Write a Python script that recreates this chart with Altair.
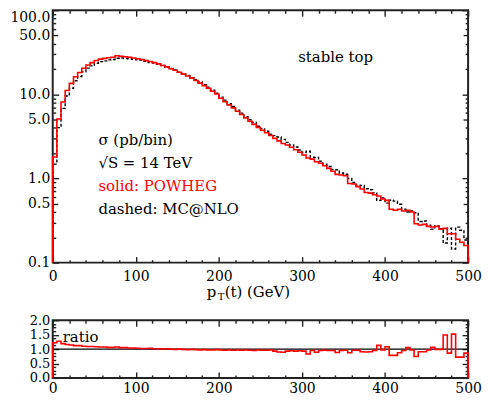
import altair as alt
import pandas as pd

# ---------------- data ----------------
x_domain = [0, 500]
y_domain_top = [0.1, 100]
y_domain_ratio = [0.0, 2.0]
bin_lo = list(range(0, 500, 5))  # 5 GeV bins

powheg = [
    1.8, 5.1, 8.1, 11.1, 13.5, 16.2, 18.2, 20.4, 22.3, 23.8,
    25.3, 26.2, 26.8, 27.2, 27.6, 28.8, 28.3, 28.0, 27.6, 27.1,
    26.5, 26.0, 25.2, 24.6, 23.8, 23.0, 22.0, 21.2, 20.2, 19.3,
    18.3, 17.4, 16.5, 15.6, 14.6, 13.6, 12.7, 11.8, 10.9, 10.1,
    9.0, 8.2, 7.5, 6.9, 6.3, 5.75, 5.25, 4.8, 4.4, 4.05,
    3.75, 3.5, 3.25, 3.0, 2.8, 2.6, 2.5, 2.35, 2.2, 2.05,
    1.9, 1.75, 1.7, 1.58, 1.52, 1.42, 1.32, 1.22, 1.12, 1.10,
    1.08, 0.87, 0.86, 0.80, 0.75, 0.68, 0.67, 0.64, 0.62, 0.57,
    0.55, 0.43, 0.42, 0.43, 0.41, 0.42, 0.40, 0.29, 0.28, 0.285,
    0.27, 0.265, 0.27, 0.25, 0.255, 0.22, 0.22, 0.19, 0.175, 0.16,
]

mcatnlo = [
    1.48, 4.02, 6.81, 9.57, 11.8, 14.5, 16.3, 18.5, 20.5, 21.8,
    23.4, 24.5, 25.0, 25.7, 26.0, 26.9, 27.0, 26.7, 26.5, 26.1,
    25.7, 25.5, 24.7, 23.9, 23.6, 22.8, 22.0, 21.0, 20.2, 19.5,
    18.3, 17.6, 16.8, 15.8, 14.9, 14.0, 13.0, 12.2, 11.2, 10.3,
    9.28, 8.54, 7.73, 7.19, 6.49, 5.99, 5.41, 5.0, 4.63, 4.18,
    3.91, 3.65, 3.35, 3.23, 3.11, 2.92, 2.69, 2.5, 2.37, 2.18,
    2.04, 2.11, 1.79, 1.78, 1.6, 1.48, 1.39, 1.28, 1.27, 1.16,
    1.125, 1.0, 0.896, 0.833, 0.824, 0.756, 0.736, 0.674, 0.549, 0.588,
    0.509, 0.551, 0.538, 0.494, 0.432, 0.40, 0.412, 0.392, 0.308, 0.313,
    0.278, 0.25, 0.273, 0.253, 0.171, 0.256, 0.145, 0.264, 0.243, 0.186,
]

ratio = [
    1.22, 1.27, 1.19, 1.16, 1.14, 1.12, 1.12, 1.10, 1.09, 1.09,
    1.08, 1.07, 1.07, 1.06, 1.06, 1.07, 1.05, 1.05, 1.04, 1.04,
    1.03, 1.02, 1.02, 1.03, 1.01, 1.01, 1.00, 1.01, 1.00, 0.99,
    1.00, 0.99, 0.98, 0.99, 0.98, 0.97, 0.98, 0.97, 0.97, 0.98,
    0.97, 0.96, 0.97, 0.96, 0.97, 0.96, 0.97, 0.96, 0.95, 0.97,
    0.96, 0.96, 0.97, 0.93, 0.90, 0.89, 0.93, 0.94, 0.93, 0.94,
    0.93, 0.83, 0.95, 0.89, 0.95, 0.96, 0.95, 0.95, 0.88, 0.95,
    0.96, 0.87, 0.96, 0.96, 0.91, 0.90, 0.91, 0.95, 1.13, 0.97,
    1.08, 0.78, 0.78, 0.87, 0.95, 1.05, 0.97, 0.74, 0.91, 0.91,
    0.97, 1.06, 0.99, 0.99, 1.49, 0.86, 1.52, 0.72, 0.72, 0.86,
]

unity = [1.0]

x_major = [0, 100, 200, 300, 400, 500]
x_minor = [v for v in range(20, 500, 20) if v % 100]
y_labels_top = [0.1, 0.5, 1, 5, 10, 50]
y_label_topmost = [100]
y_major_top = [0.1, 1, 10, 100]
y_half_top = [0.5, 5, 50]
y_minor_top = [m * d for d in (0.1, 1, 10) for m in (2, 3, 4, 6, 7, 8, 9)]
y_labels_ratio = [0.0, 0.5, 1.0, 1.5, 2.0]
y_minor_ratio = [i * 0.125 for i in range(17) if i % 4]

notes = ["σ (pb/bin)", "√S = 14 TeV", "solid: POWHEG", "dashed: MC@NLO"]
corner_label = "stable top"
ratio_label = "ratio"
xtitle = ["p", "T", "(t) (GeV)"]

# ---------------- styling ----------------
FONT = "DejaVu Serif, Liberation Serif, serif"
FRAME = "#222222"
RED = "#ff0000"
W, H1, H2 = 418, 254, 58
FS = 15


def step_frame(values, floor):
    xs = [x_domain[0]] + bin_lo + [x_domain[1], x_domain[1]]
    ys = [floor] + list(values) + [values[-1], floor]
    return pd.DataFrame({"x": xs, "y": ys, "i": list(range(len(xs)))})


def tick_axis(orient, values, size, offset):
    return alt.Axis(orient=orient, values=values, tickSize=size, offset=offset,
                    labels=False, domain=False, grid=False, title=None,
                    ticks=True, tickColor=FRAME, tickWidth=1.4, minExtent=0)


def label_axis(orient, values, fmt, pad, size=14, flush=False):
    return alt.Axis(orient=orient, values=values, format=fmt, ticks=False,
                    domain=False, grid=False, title=None, labelPadding=pad,
                    labelFont=FONT, labelFontSize=size, labelColor="black",
                    labelFlush=flush, labelOverlap=False, minExtent=0)


def axis_layers(data, xscale, yscale, x_axes, y_axes):
    layers = []
    for k in range(max(len(x_axes), len(y_axes))):
        xa = x_axes[k] if k < len(x_axes) else None
        ya = y_axes[k] if k < len(y_axes) else None
        layers.append(
            alt.Chart(data).mark_point(opacity=0, size=1).encode(
                x=alt.X("x:Q", scale=xscale, axis=xa),
                y=alt.Y("y:Q", scale=yscale, axis=ya),
            )
        )
    return layers


one = pd.DataFrame({"k": [0]})


def text_layer(txt, x, y, size=FS, color="black", baseline="middle"):
    return alt.Chart(one).mark_text(
        text=txt, align="left", baseline=baseline, font=FONT,
        fontSize=size, color=color
    ).encode(x=alt.value(x), y=alt.value(y))


# ---------------- top panel ----------------
xs_top = alt.Scale(domain=x_domain, nice=False, zero=False)
ys_top = alt.Scale(type="log", domain=y_domain_top, nice=False)

red_top = step_frame(powheg, y_domain_top[0])
blk_top = step_frame(mcatnlo, y_domain_top[0])

x_axes_top = [
    label_axis("bottom", x_major, "d", 7),
    tick_axis("top", x_major, 6, -H1),
    tick_axis("top", x_minor, 3, -H1),
    tick_axis("bottom", x_major, 6, -H1),
    tick_axis("bottom", x_minor, 3, -H1),
]
y_axes_top = [
    label_axis("left", y_labels_top, ".1f", 3),
    label_axis("left", y_label_topmost, ".1f", 3, flush=True),
    tick_axis("right", y_major_top, 6, -W),
    tick_axis("right", y_half_top, 5, -W),
    tick_axis("right", y_minor_top, 3, -W),
    tick_axis("left", y_major_top, 6, -W),
    tick_axis("left", y_half_top, 5, -W),
    tick_axis("left", y_minor_top, 3, -W),
]

top_layers = axis_layers(red_top, xs_top, ys_top, x_axes_top, y_axes_top)

black_line = alt.Chart(blk_top).mark_line(
    interpolate="step-after", color="black", strokeWidth=1.4, strokeDash=[3, 2]
).encode(
    x=alt.X("x:Q", scale=xs_top, axis=None),
    y=alt.Y("y:Q", scale=ys_top, axis=None),
    order="i:Q",
)
red_line = alt.Chart(red_top).mark_line(
    interpolate="step-after", color=RED, strokeWidth=1.6
).encode(
    x=alt.X("x:Q", scale=xs_top, axis=None),
    y=alt.Y("y:Q", scale=ys_top, axis=None),
    order="i:Q",
)

texts_top = [
    text_layer(corner_label, 247, 47),
    text_layer(notes[0], 46, 131),
    text_layer(notes[1], 46, 154),
    text_layer(notes[2], 46, 177, color=RED),
    text_layer(notes[3], 46, 200),
    text_layer(xtitle[0], 155, 289, baseline="alphabetic"),
    text_layer(xtitle[1], 166, 292, size=10, baseline="alphabetic"),
    text_layer(xtitle[2], 173, 289, baseline="alphabetic"),
]

top = alt.layer(*top_layers, black_line, red_line, *texts_top).resolve_axis(
    x="independent", y="independent"
).properties(width=W, height=H1)

# ---------------- ratio panel ----------------
xs_bot = alt.Scale(domain=x_domain, nice=False, zero=False)
ys_bot = alt.Scale(domain=y_domain_ratio, nice=False, zero=False)

red_bot = step_frame(ratio, y_domain_ratio[0])

x_axes_bot = [
    label_axis("bottom", x_major, "d", 4),
    tick_axis("top", x_major, 6, -H2),
    tick_axis("top", x_minor, 3, -H2),
    tick_axis("bottom", x_major, 6, -H2),
    tick_axis("bottom", x_minor, 3, -H2),
]
y_axes_bot = [
    label_axis("left", y_labels_ratio, ".1f", 3, size=13),
    tick_axis("right", y_labels_ratio, 6, -W),
    tick_axis("right", y_minor_ratio, 3, -W),
    tick_axis("left", y_labels_ratio, 6, -W),
    tick_axis("left", y_minor_ratio, 3, -W),
]
bot_layers = axis_layers(red_bot, xs_bot, ys_bot, x_axes_bot, y_axes_bot)

unity_rule = alt.Chart(pd.DataFrame({"y": unity})).mark_rule(
    color="black", strokeWidth=1.2
).encode(y=alt.Y("y:Q", scale=ys_bot, axis=None))

red_ratio = alt.Chart(red_bot).mark_line(
    interpolate="step-after", color=RED, strokeWidth=1.6
).encode(
    x=alt.X("x:Q", scale=xs_bot, axis=None),
    y=alt.Y("y:Q", scale=ys_bot, axis=None),
    order="i:Q",
)

bottom = alt.layer(*bot_layers, unity_rule, red_ratio,
                   text_layer(ratio_label, 10, 17)).resolve_axis(
    x="independent", y="independent"
).properties(width=W, height=H2)

chart = alt.vconcat(top, bottom, spacing=10).properties(
    padding={"left": 0, "top": -1, "right": 0, "bottom": 0}
).configure_view(stroke=FRAME, strokeWidth=2)

chart.save("out.html", embed_options={"renderer": "svg", "actions": False})
